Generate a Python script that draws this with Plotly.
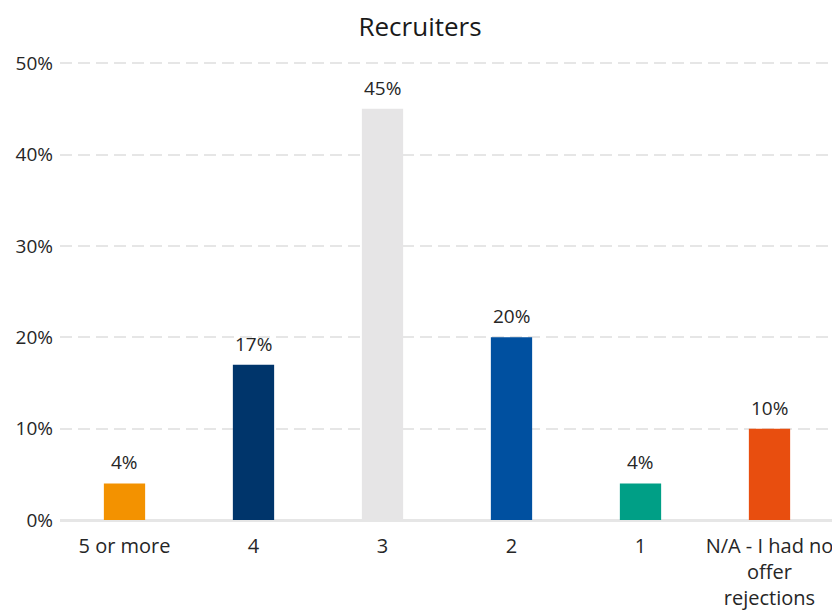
import plotly.graph_objects as go

categories = ["5 or more", "4", "3", "2", "1", "N/A - I had no<br>offer<br>rejections"]
values = [4, 17, 45, 20, 4, 10]
colors = ["#F39200", "#00356B", "#E6E5E6", "#0050A0", "#009F86", "#E84E0F"]
labels = [f"{v}%" for v in values]

fig = go.Figure(go.Bar(
    x=categories, y=values, marker=dict(color=colors, line=dict(width=0)),
    cliponaxis=False,
))

for i, (v, t) in enumerate(zip(values, labels)):
    fig.add_annotation(x=i, y=v, text=t, showarrow=False, yanchor="bottom",
                       yshift=6, font=dict(size=19, color="#262626"))

fig.update_layout(
    width=840, height=612,
    paper_bgcolor="white", plot_bgcolor="white",
    font=dict(family="Open Sans, Noto Sans, sans-serif", size=20, color="#262626"),
    title=dict(text="Recruiters", x=0.4905, xanchor="center", y=0.969, yanchor="middle",
               font=dict(size=26, color="#1a1a1a")),
    margin=dict(l=52, r=14, t=46, b=100),
    bargap=0.68,
    showlegend=False,
    xaxis=dict(type="category", showgrid=False, showline=False, ticks="", tickfont=dict(size=20),
               ticklabelstandoff=12, automargin=False),
    yaxis=dict(range=[0, 51], dtick=10, ticksuffix="%", showgrid=True,
               gridcolor="#E6E6E6", griddash="12px,6px", gridwidth=2,
               zeroline=True, zerolinecolor="#E6E6E6", zerolinewidth=3,
               showline=False, ticks="", tickfont=dict(size=19),
               ticklabelstandoff=6, automargin=False),
)

fig.write_html("out.html")
